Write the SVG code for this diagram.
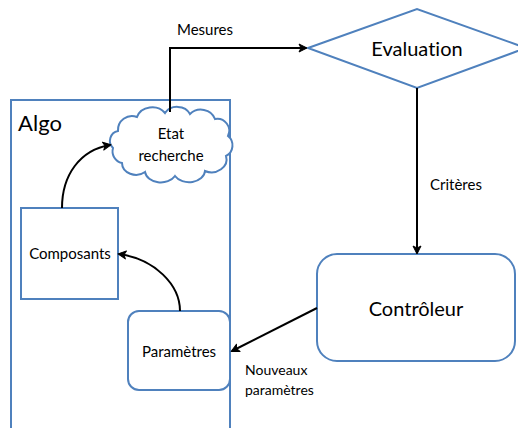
<svg xmlns="http://www.w3.org/2000/svg" width="518" height="428" viewBox="0 0 518 428">
<defs>
<style>
.shape{fill:#fff;stroke:#4f81bd;stroke-width:2}
.t{font-family:Lato,"Open Sans","Liberation Sans",sans-serif;fill:#000;text-anchor:middle;font-variant-ligatures:none}
.s{font-size:15px}
.b{font-size:20px}
.c{fill:none;stroke:#000;stroke-width:2}
</style>
<marker id="ah" markerWidth="10" markerHeight="10" refX="8" refY="5" orient="auto" markerUnits="userSpaceOnUse">
<path d="M1,1 L9,5 L1,9 L3,5 Z" fill="#000" stroke="#000" stroke-width="1" stroke-linejoin="round"/>
</marker>
</defs>
<rect width="518" height="428" fill="#fff"/>
<g id="algo">
<rect class="shape" x="11" y="100" width="219" height="340"/>
<text class="t" x="40" y="131" style="font-size:22px">Algo</text>
</g>
<g id="etat">
<path class="shape" d="M118,131 A14,14 0 0 1 137,117 A16,14 0 0 1 165,113 A14,12 0 0 1 190,114 A15,14 0 0 1 215,119 A12,12 0 0 1 228,136 A12,12 0 0 1 226,156 A15,13 0 0 1 205,171 A16,12 0 0 1 175,176 A16,12 0 0 1 145,172 A14,12 0 0 1 122,163 A12,12 0 0 1 113,148 A10,10 0 0 1 118,131 Z"/>
<text class="t s" x="171" y="139">Etat</text>
<text class="t s" x="171" y="161">recherche</text>
</g>
<g id="composants">
<rect class="shape" x="21" y="208" width="97" height="91"/>
<text class="t s" x="70" y="259">Composants</text>
</g>
<g id="parametres">
<rect class="shape" x="128" y="311" width="102" height="79" rx="11"/>
<text class="t s" x="179" y="357">Paramètres</text>
</g>
<g id="evaluation">
<path class="shape" d="M308,48 L417,9 L526,48 L417,88 Z"/>
<text class="t b" x="417" y="56">Evaluation</text>
</g>
<g id="controleur">
<rect class="shape" x="317" y="254" width="198" height="107" rx="20"/>
<text class="t b" x="416" y="316">Contrôleur</text>
</g>
<g id="connectors">
<path class="c" d="M170,112 V48 H306" marker-end="url(#ah)"/>
<path class="c" d="M417,88 V253" marker-end="url(#ah)"/>
<path class="c" d="M317,308 L232,351" marker-end="url(#ah)"/>
<path class="c" d="M62,208 C62,175 80,150 110,145" marker-end="url(#ah)"/>
<path class="c" d="M180,311 C180,285 155,259 119,254" marker-end="url(#ah)"/>
</g>
<g id="labels">
<text class="t s" x="205" y="35">Mesures</text>
<text class="t s" x="456" y="190">Critères</text>
<text class="t" x="245" y="375" style="font-size:14px;text-anchor:start">Nouveaux</text>
<text class="t" x="245" y="395" style="font-size:14px;text-anchor:start">paramètres</text>
</g>
</svg>
